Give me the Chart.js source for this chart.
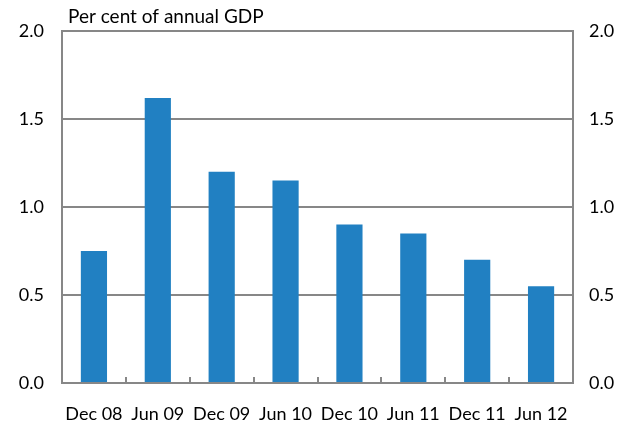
<!DOCTYPE html>
<html>
<head>
<meta charset="utf-8">
<script src="https://cdn.jsdelivr.net/npm/chart.js@4"></script>
<style>
    html, body { margin: 0; padding: 0; background: #fff; }
    #wrap { width: 626px; height: 428px; }
</style>
</head>
<body>
<div id="wrap"><canvas id="myChart" width="626" height="428"></canvas></div>
<script>
// data
const categories = ['Dec 08', 'Jun 09', 'Dec 09', 'Jun 10', 'Dec 10', 'Jun 11', 'Dec 11', 'Jun 12'];
const values = [0.75, 1.62, 1.20, 1.15, 0.90, 0.85, 0.70, 0.55];
const yTicks = [0, 0.5, 1.0, 1.5, 2.0];
const unitLabel = 'Per cent of annual GDP';

const
    gridColor = '#878787',
    barColor = '#2180c2',
    font = 'Lato';

// inward tick marks between categories + unit text above the plot
const extras = {
    id: 'extras',
    afterDraw(chart) {
        const ctx = chart.ctx, x = chart.scales.x, area = chart.chartArea;
        ctx.save();
        ctx.strokeStyle = gridColor;
        ctx.lineWidth = 2;
        for (let i = 1; i < categories.length; i++) {
            const px = Math.round((x.getPixelForTick(i - 1) + x.getPixelForTick(i)) / 2);
            ctx.beginPath();
            ctx.moveTo(px, area.bottom);
            ctx.lineTo(px, area.bottom - 6);
            ctx.stroke();
        }
        // right and top border
        ctx.beginPath();
        ctx.moveTo(area.left, area.top);
        ctx.lineTo(area.right, area.top);
        ctx.lineTo(area.right, area.bottom);
        ctx.stroke();
        ctx.fillStyle = '#000';
        ctx.font = '19px ' + font;
        ctx.textBaseline = 'alphabetic';
        ctx.fillText(unitLabel, area.left + 6, area.top - 8);
        ctx.restore();
    }
};

function yAxis(pos) {
    return {
        position: pos,
        min: 0,
        max: 2,
        afterBuildTicks: (s) => { s.ticks = yTicks.map(v => ({ value: v })); },
        afterFit: (s) => { s.width = pos === 'left' ? 62 : 53; },
        grid: { display: pos === 'left', color: gridColor, lineWidth: 2, drawTicks: false },
        border: { display: true, color: gridColor, width: 2 },
        ticks: {
            padding: pos === 'left' ? 18 : 16,
            color: '#000',
            font: { family: font, size: 18 },
            callback: (v) => Number(v).toFixed(1)
        }
    };
}

new Chart(document.getElementById('myChart'), {
    type: 'bar',
    data: {
        labels: categories,
        datasets: [{
            data: values,
            backgroundColor: barColor,
            barPercentage: 0.41,
            categoryPercentage: 1.0
        }]
    },
    options: {
        responsive: false,
        animation: false,
        layout: { padding: { top: 31, left: 0, right: 0, bottom: 0 } },
        plugins: { legend: { display: false }, tooltip: { enabled: false } },
        scales: {
            x: {
                grid: { display: false },
                border: { display: true, color: gridColor, width: 2 },
                afterFit: (s) => { s.height = 45; },
                ticks: {
                    padding: 12,
                    autoSkip: false,
                    maxRotation: 0,
                    color: '#000',
                    font: { family: font, size: 18 }
                }
            },
            y: yAxis('left'),
            y2: yAxis('right')
        }
    },
    plugins: [extras]
});
</script>
</body>
</html>
